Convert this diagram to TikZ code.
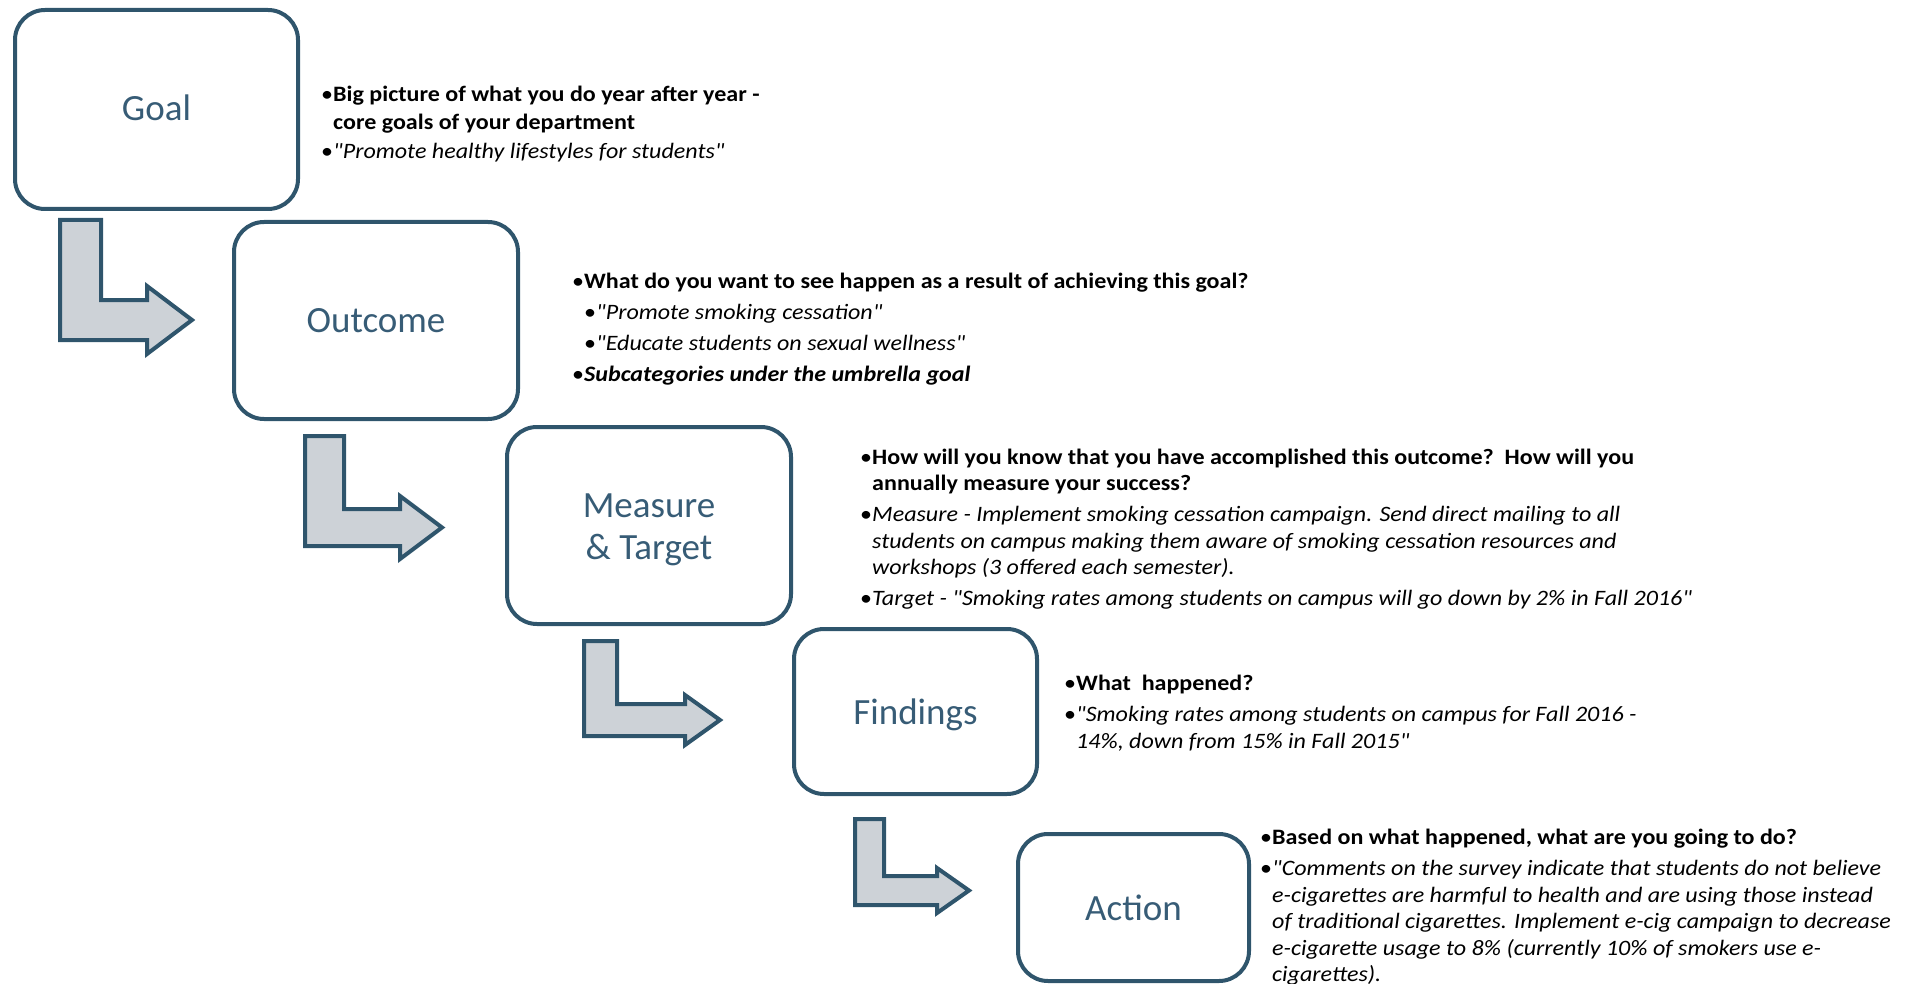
\documentclass[tikz,border=0pt]{standalone}
\usepackage{fontspec}
\setmainfont{Carlito}[Ligatures=TeXOff]
\newfontfamily\notefont{Carlito}[FakeStretch=1.093, Ligatures=TeXOff]
\definecolor{frameblue}{RGB}{47,85,108}
\definecolor{labelblue}{RGB}{55,92,118}
\definecolor{arrowgray}{RGB}{205,210,215}
% bullet and hanging indent for the note lists
\newcommand\bul{\makebox[13pt][l]{\hspace{1pt}•}}
\newcommand\ind{\hspace*{13pt}}
\newcommand\gap{\\[4.5pt]}
\begin{document}
\begin{tikzpicture}[x=1pt,y=-1pt,
  stage/.style={draw=frameblue, line width=4pt, rounded corners=30pt, inner sep=0pt},
  label/.style={text=labelblue, font=\fontsize{37}{42}\selectfont, align=center, inner sep=0pt},
  elbowarrow/.style={draw=frameblue, fill=arrowgray, line width=4pt, miter limit=10},
  note/.style={anchor=north west, align=left, inner sep=0pt,
    font=\notefont\fontsize{22}{26.5}\selectfont}]
\useasboundingbox (0,0) rectangle (1905,984);

% the five stages
\node[stage, minimum width=283pt, minimum height=199pt] (goal) at (156.5,109.5) {};
\node[stage, minimum width=284pt, minimum height=197pt] (outcome) at (376,320.5) {};
\node[stage, minimum width=284pt, minimum height=197pt] (measure) at (649,525.5) {};
\node[stage, minimum width=243pt, minimum height=165pt] (findings) at (915.5,711.5) {};
\node[stage, minimum width=231pt, minimum height=147pt] (action) at (1133.5,907.5) {};

% stage names (yshift is in canvas points, positive is upwards)
\node[label] (goallabel) at ([yshift=1.5pt]goal.center) {Goal};
\node[label] (outcomelabel) at (outcome.center) {Outcome};
\node[label] (measurelabel) at ([yshift=-4pt]measure.center) {Measure\\\& Target};
\node[label] (findingslabel) at ([yshift=-3.5pt]findings.center) {Findings};
\node[label] (actionlabel) at (action.center) {Action};

% bent block arrows leading from one stage down to the next
\draw[elbowarrow] (60,220) -- (101,220) -- (101,300) -- (147,300) -- (147,286) -- (192,320)
  -- (147,354) -- (147,340) -- (60,340) -- cycle;
\draw[elbowarrow] (305,436) -- (344,436) -- (344,509) -- (400,509) -- (400,496) -- (442,527.5)
  -- (400,559) -- (400,546) -- (305,546) -- cycle;
\draw[elbowarrow] (584,641) -- (617,641) -- (617,704) -- (685,704) -- (685,695) -- (720,720)
  -- (685,745) -- (685,736) -- (584,736) -- cycle;
\draw[elbowarrow] (855,819) -- (884,819) -- (884,876) -- (937,876) -- (937,868) -- (969,890.5)
  -- (937,913) -- (937,905) -- (855,905) -- cycle;

% notes beside each stage
\node[note, font=\notefont\fontsize{22}{28}\selectfont] (goalnote) at (320,82) {%
\strut\bul\textbf{Big picture of what you do year after year -}\\
\ind\textbf{core goals of your department}\\[1pt]
\bul\textit{"Promote healthy lifestyles for students"}};

\node[note] (outcomenote) at (571,269.5) {%
\strut\bul\textbf{What do you want to see happen as a result of achieving this goal?}\gap
\hspace*{12pt}\bul\textit{"Promote smoking cessation"}\gap
\hspace*{12pt}\bul\textit{"Educate students on sexual wellness"}\gap
\bul\textbf{\textit{Subcategories under the umbrella goal}}};

\node[note] (measurenote) at (859,445.7) {%
\strut\bul\textbf{How will you know that you have accomplished this outcome?\ \ How will you}\\
\ind\textbf{annually measure your success?}\gap
\bul\textit{Measure - Implement smoking cessation campaign. Send direct mailing to all}\\
\ind\textit{students on campus making them aware of smoking cessation resources and}\\
\ind\textit{workshops (3 offered each semester).}\gap
\bul\textit{Target - "Smoking rates among students on campus will go down by 2\% in Fall 2016"}};

\node[note] (findingsnote) at (1063,672) {%
\strut\bul\textbf{What\ \ happened?}\gap
\bul\textit{"Smoking rates among students on campus for Fall 2016 -}\\
\ind\textit{14\%, down from 15\% in Fall 2015"}};

\node[note] (actionnote) at (1259,826) {%
\strut\bul\textbf{Based on what happened, what are you going to do?}\gap
\bul\textit{"Comments on the survey indicate that students do not believe}\\
\ind\textit{e-cigarettes are harmful to health and are using those instead}\\
\ind\textit{of traditional cigarettes. Implement e-cig campaign to decrease}\\
\ind\textit{e-cigarette usage to 8\% (currently 10\% of smokers use e-}\\
\ind\textit{cigarettes).}};
\end{tikzpicture}
\end{document}
